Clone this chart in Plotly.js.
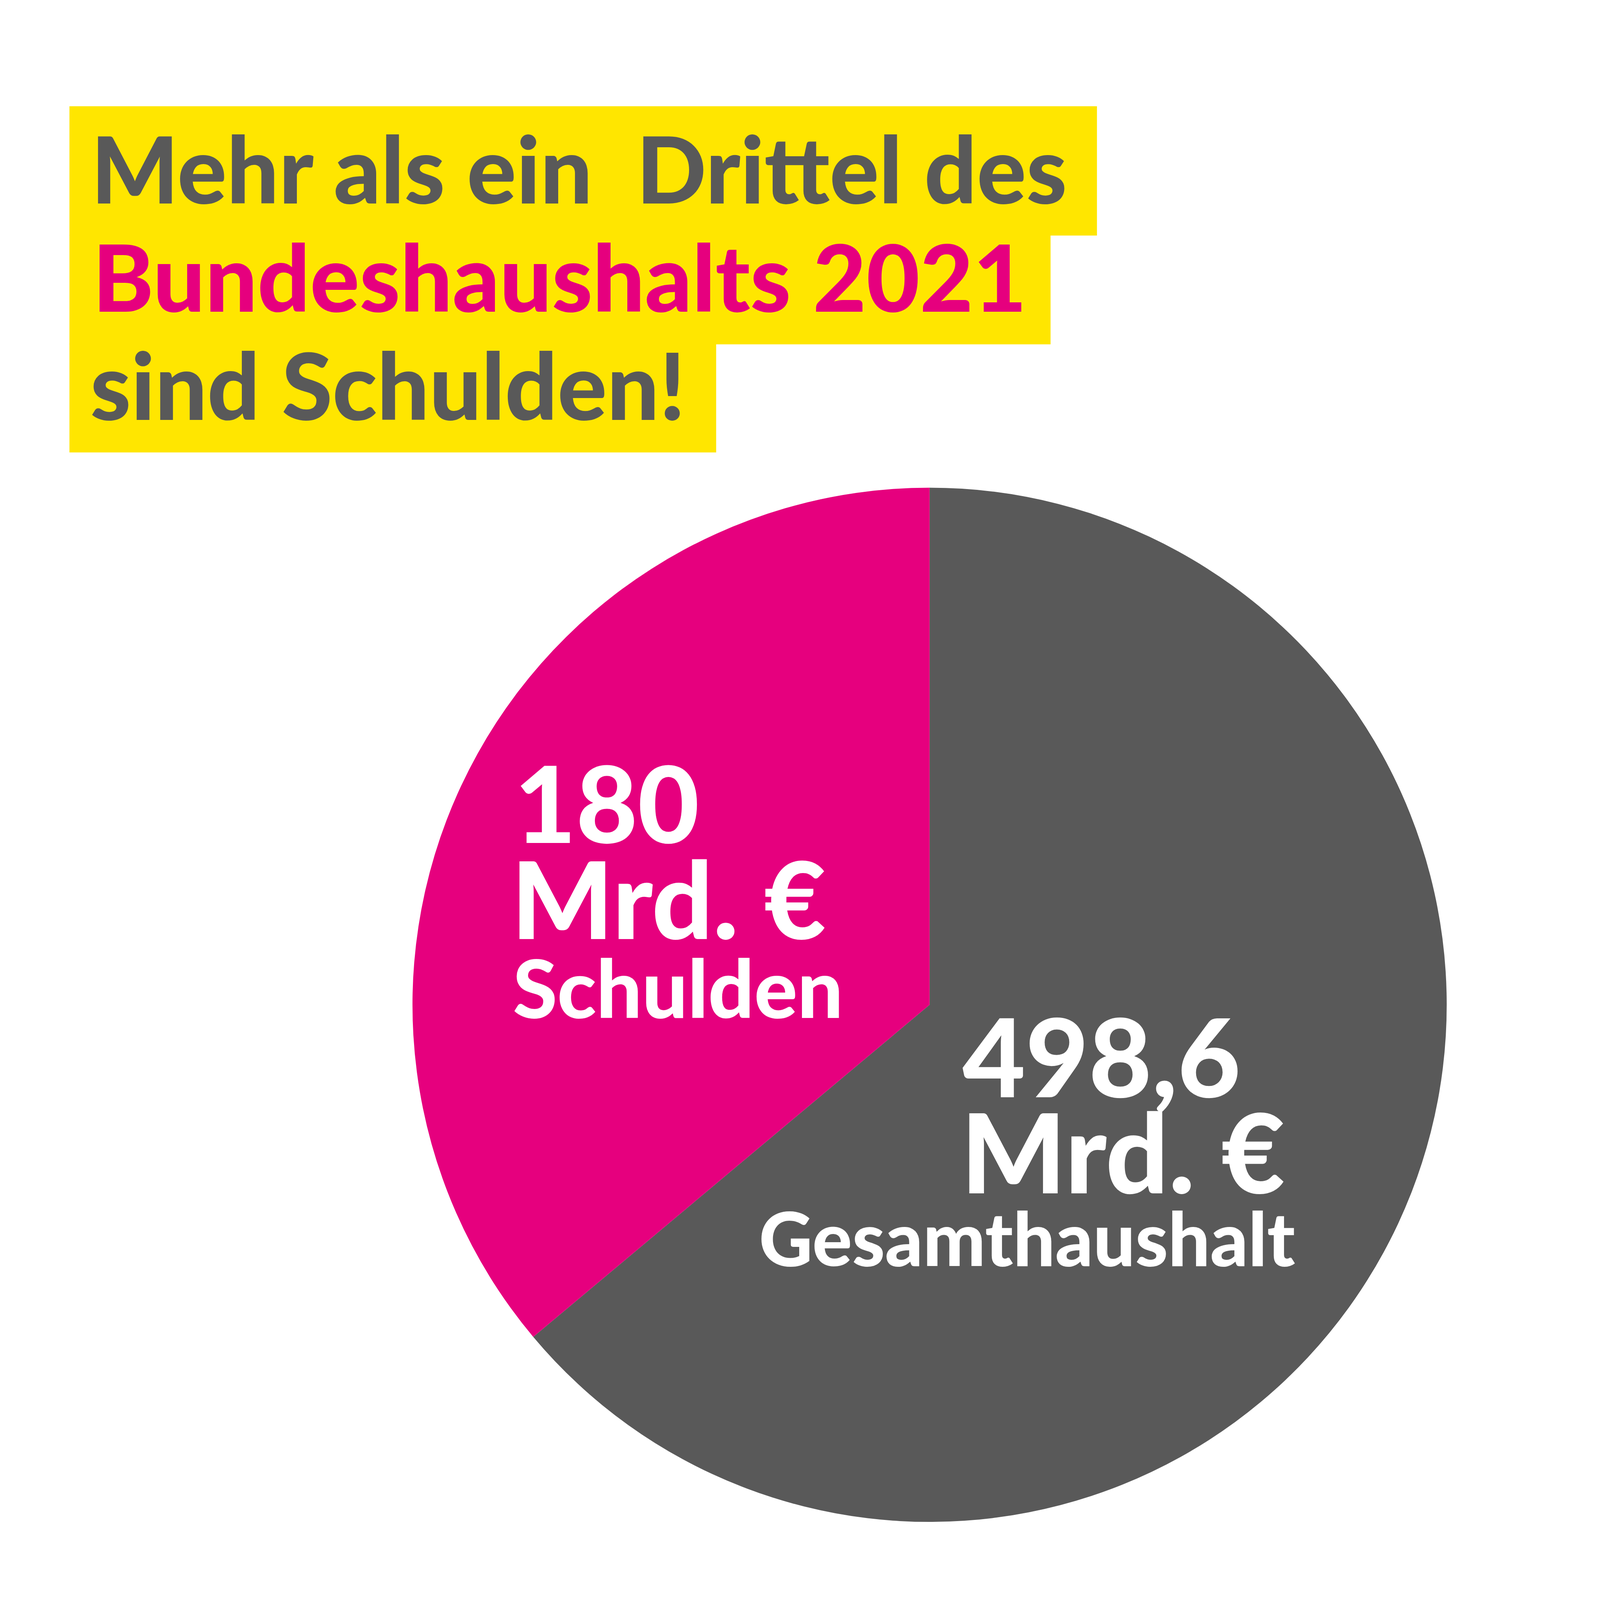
<!DOCTYPE html>
<html>
<head>
<meta charset="utf-8">
<script src="https://cdn.plot.ly/plotly-3.0.1.min.js"></script>
<style>html,body{margin:0;padding:0;background:#fff;overflow:hidden;}</style>
</head>
<body>
<div id="chart"></div>
<script>
// ---- data ----
const categories = ["Übriger Haushalt", "Schulden"];
const values = [318.6, 180];
const totalBudget = 498.6;
const sliceColors = ["#595959", "#E6007E"];
const titleLines = ["Mehr als ein\u00A0\u00A0Drittel des", "Bundeshaushalts 2021", "sind Schulden!"];
const unitLabel = "Mrd. €";
const debtLabel = "Schulden";
const totalLabel = "Gesamthaushalt";

const fmt = v => String(v).replace(".", ",");
const FONT = "Lato, 'Open Sans', sans-serif";

// reference design space is 5000 x 5000; scale to the real viewport
const REF = 5000;
const W = window.innerWidth || REF;
const H = window.innerHeight || REF;
const S = Math.min(W, H);
const s = S / REF;
const el = document.getElementById("chart");
el.style.width = S + "px";
el.style.height = S + "px";

const py = p => 1 - p / REF;
const px = p => p / REF;

const pieCx = 2905, pieCy = 3140, pieR = 1616;

const trace = {
  type: "pie",
  labels: categories,
  values: values,
  sort: false,
  direction: "clockwise",
  rotation: 0,
  textinfo: "none",
  hoverinfo: "label+value",
  marker: {colors: sliceColors, line: {width: 0}},
  domain: {x: [px(pieCx - pieR), px(pieCx + pieR)], y: [py(pieCy + pieR), py(pieCy - pieR)]},
  showlegend: false
};

const yellow = "#FFE600";
const shapes = [
  {x0: 217, x1: 3428, y0: 332, y1: 736},
  {x0: 217, x1: 3283, y0: 734, y1: 1076},
  {x0: 217, x1: 2238, y0: 1074, y1: 1414}
].map(r => ({type: "rect", xref: "paper", yref: "paper", layer: "below",
  x0: px(r.x0), x1: px(r.x1), y0: py(r.y1), y1: py(r.y0),
  fillcolor: yellow, line: {width: 0}}));

function ann(text, x, yc, size, color, anchor) {
  return {text: text, xref: "paper", yref: "paper", x: px(x), y: py(yc),
    xanchor: anchor, yanchor: "middle", showarrow: false,
    font: {family: FONT, size: size * s, color: color, weight: 900}};
}

const titleGrey = "#595959";
const annotations = [
  ann(titleLines[0], 282, 524, 288, titleGrey, "left"),
  ann(titleLines[1], 287, 862, 288, "#E6007E", "left"),
  ann(titleLines[2], 279, 1201, 288, titleGrey, "left"),
  ann(fmt(values[1]), 1605, 2506, 332, "#ffffff", "left"),
  ann(unitLabel, 1595, 2805, 335, "#ffffff", "left"),
  ann(debtLabel, 1600, 3083, 252, "#ffffff", "left"),
  ann(fmt(totalBudget), 3005, 3297, 340, "#ffffff", "left"),
  ann(unitLabel, 3000, 3596, 345, "#ffffff", "left"),
  ann(totalLabel, 4050, 3866, 232, "#ffffff", "right")
];

const layout = {
  width: S, height: S,
  margin: {l: 0, r: 0, t: 0, b: 0, pad: 0},
  paper_bgcolor: "#ffffff",
  plot_bgcolor: "#ffffff",
  showlegend: false,
  shapes: shapes,
  annotations: annotations
};

Plotly.newPlot("chart", [trace], layout, {displayModeBar: false, staticPlot: true});
</script>
</body>
</html>
